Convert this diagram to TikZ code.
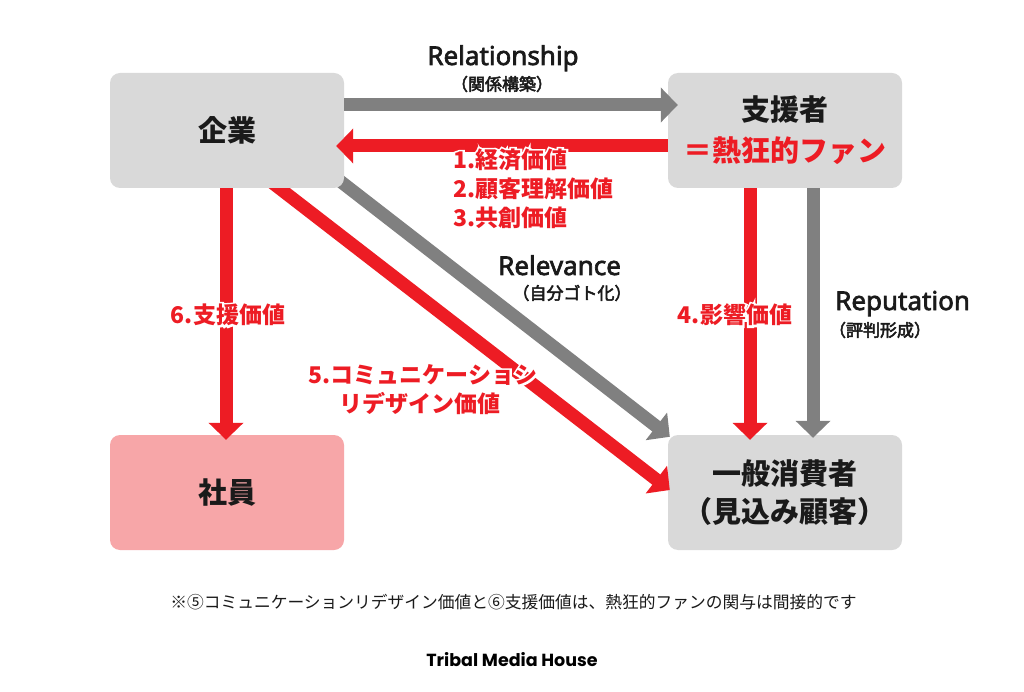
\documentclass[tikz,border=0pt]{standalone}
\usepackage{fontspec}
\setmainfont{Noto Sans CJK JP}
\newfontfamily\jpmed{Noto Sans CJK JP}[FakeBold=3]
\newfontfamily\latmed{Noto Sans}[FakeBold=2.5]
\newfontfamily\halofam{Noto Sans CJK JP}[BoldFeatures={FakeBold=18}]
\newfontfamily\popfont{Poppins}
\usetikzlibrary{arrows.meta,calc}
\definecolor{tmred}{HTML}{ED1C24}
\definecolor{tmgray}{HTML}{808080}
\definecolor{boxgray}{HTML}{D9D9D9}
\definecolor{boxpink}{HTML}{F7A6A8}
\definecolor{ink}{HTML}{1A1A1A}
\pgfdeclarelayer{paper}
\pgfdeclarelayer{back}
\pgfsetlayers{paper,back,main}
\tikzset{
  box/.style={rectangle, rounded corners=10pt, minimum width=234pt, minimum height=115pt,
    inner sep=0pt, align=center, text=ink, font=\bfseries\fontsize{29}{41}\selectfont},
  garrow/.style={draw=tmgray, line width=13pt, -{Triangle[length=17pt,width=34pt]}},
  rarrow/.style={draw=tmred, line width=13pt, -{Triangle[length=17pt,width=34pt]}},
  redlbl/.style={text=tmred, inner sep=0pt, font=\bfseries\fontsize{23}{29}\selectfont},
  halolbl/.style={text=white, inner sep=0pt, font=\halofam\bfseries\fontsize{23}{29}\selectfont},
  enlbl/.style={text=ink, inner sep=0pt, font=\latmed\fontsize{26}{30}\selectfont},
  jplbl/.style={text=ink, inner sep=0pt, font=\jpmed\fontsize{17}{20}\selectfont},
}
\newcommand\halolabel[4]{%
  \node[halolbl,#3] at #2 {#4};
  \node[redlbl,#3] (#1) at #2 {#4};}
\begin{document}
\begin{tikzpicture}[x=1pt,y=-1pt]
\begin{pgfonlayer}{paper}
\useasboundingbox[fill=white] (0,0) rectangle (1024,692);
\end{pgfonlayer}
% boxes
\node[box, fill=boxgray] (qy) at (227,130.5) {企業};
\node[box, fill=boxgray] (sh) at (785,130.5) {支援者\\\textcolor{tmred}{＝熱狂的ファン}};
\node[box, fill=boxpink] (ss) at (227,492.5) {社員};
\begin{pgfonlayer}{back}
\node[box, fill=boxgray, font=\bfseries\fontsize{29}{38}\selectfont] (ip) at (785,492.5) {一般消費者\\（見込み顧客）};
\draw[garrow] ([shift={(73,19.5)}]qy.center) -- ([shift={(2,2)}]ip.north west);
\draw[rarrow] ([shift={(3,19.5)}]qy.center) -- ([shift={(2,-2.5)}]ip.west);
\end{pgfonlayer}
% horizontal arrows
\draw[garrow, shorten >=-10pt] ([yshift=25.5pt]qy.east) -- ([yshift=25.5pt]sh.west);
\draw[rarrow, shorten >=-8pt] ([yshift=-15.5pt]sh.west) -- ([yshift=-15.5pt]qy.east);
% vertical arrows
\draw[rarrow, shorten >=-5pt] ([xshift=-1pt]qy.south) -- ([xshift=-1pt]ss.north);
\draw[rarrow, shorten >=-5pt] ([xshift=-35pt]sh.south) -- ([xshift=-35pt]ip.north);
\draw[garrow, shorten >=-3pt] ([xshift=28pt]sh.south) -- ([xshift=28pt]ip.north);
% grey labels
\node[enlbl, anchor=base] (relA) at (503,65) {Relationship};
\node[jplbl] (relB) at (502,84) {（関係構築）};
\node[enlbl, anchor=base west] (revA) at (498,275) {Relevance};
\node[jplbl] (revB) at (572,293) {（自分ゴト化）};
\node[enlbl, anchor=base west] (repA) at (835,310) {Reputation};
\node[jplbl] (repB) at (880,330) {（評判形成）};
% red labels
\halolabel{v1}{(453,160)}{anchor=west}{1.経済価値}
\halolabel{v2}{(453,189)}{anchor=west}{2.顧客理解価値}
\halolabel{v3}{(453,218)}{anchor=west}{3.共創価値}
\halolabel{v4}{(735,315)}{}{4.影響価値}
\halolabel{v5a}{(423,375)}{}{5.コミュニケーショシ}
\halolabel{v5b}{(420,403)}{}{リデザイン価値}
\halolabel{v6}{(228,315)}{}{6.支援価値}
% footnote and logo
\node[text=ink, inner sep=0pt, font=\fontsize{16.75}{20}\selectfont] (note) at (513.5,602)
  {※⑤コミュニケーションリデザイン価値と⑥支援価値は、熱狂的ファンの関与は間接的です};
\node[text=black, inner sep=0pt, font=\popfont\bfseries\fontsize{17.5}{20}\selectfont] (logo) at (512,660) {Tribal Media House};
\end{tikzpicture}
\end{document}
